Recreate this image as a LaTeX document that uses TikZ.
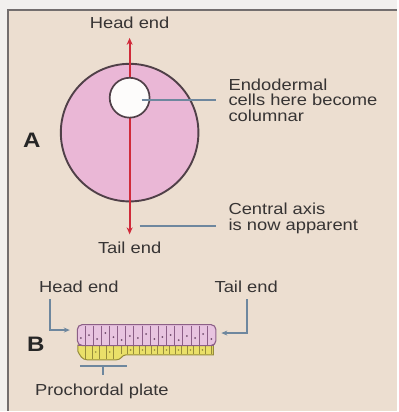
\documentclass[tikz,border=0pt]{standalone}
\usepackage{fontspec}
\setmainfont{Liberation Sans}[FakeStretch=1.15]
\usetikzlibrary{arrows.meta}
\definecolor{paper}{RGB}{236,222,208}
\definecolor{margin}{RGB}{242,240,238}
\definecolor{framegray}{RGB}{115,110,110}
\definecolor{txtgray}{RGB}{55,52,52}
\definecolor{eggpink}{RGB}{234,183,214}
\definecolor{rimgray}{RGB}{80,64,72}
\definecolor{axisred}{RGB}{208,42,58}
\definecolor{leader}{RGB}{110,135,158}
\definecolor{cellpink}{RGB}{232,196,224}
\definecolor{cellline}{RGB}{140,95,135}
\definecolor{yolk}{RGB}{234,224,105}
\definecolor{yolkline}{RGB}{150,140,60}
\begin{document}
\begin{tikzpicture}[x=1pt,y=-1pt,
  lbl/.style={inner sep=0pt, font=\fontsize{16}{16}\selectfont, text=txtgray, align=left},
  letter/.style={inner sep=0pt, font=\fontsize{21}{21}\selectfont\bfseries, text=black!85},
  leaderline/.style={draw=leader, line width=1.7pt},
  axis/.style={draw=axisred, line width=2pt, -{Stealth[length=7pt,width=6pt]}},
  pointer/.style={draw=leader, line width=1.6pt, -{Stealth[length=6pt,width=5pt]}},
  cellwall/.style={draw=cellline, line width=0.8pt},
  yolkwall/.style={draw=yolkline, line width=0.8pt},
  nucleus/.style={fill=cellline!80!black, draw=none}]

% page, margin and frame
\fill[margin] (0,0) rectangle (398,412);
\fill[paper] (8,10) rectangle (398,412);
\draw[framegray, line width=2.4pt] (8,412) -- (8,10) -- (398,10);
\useasboundingbox (0,0) rectangle (398,412);

% ---------- A: egg with central axis ----------
\node[circle, draw=rimgray, line width=1.9pt, fill=eggpink, minimum size=138pt, inner sep=0pt] (egg) at (130,133) {};
\coordinate (headtip) at (130,38);
\coordinate (tailtip) at (130,235);
\draw[axis] (egg.north) -- (headtip);
\draw[axis] (egg.north) -- (tailtip);
\node[circle, draw=rimgray, line width=1.7pt, fill=white!92!paper, minimum size=40pt, inner sep=0pt] (disk) at (130,98) {};

\node[lbl, anchor=base] (headA) at (130,29) {Head end};
\node[lbl, anchor=base] (tailA) at (130,254) {Tail end};
\node[letter, anchor=base west] (labA) at (23,148) {A};

\node[lbl, anchor=north west] (endo) at (229,78.5) {Endodermal\\cells here become\\columnar};
\node[lbl, anchor=north west] (axistxt) at (229,203.5) {Central axis\\is now apparent};
\coordinate (diskpt) at (142,100);
\coordinate (axispt) at (140,227);
\draw[leaderline] (diskpt) -- ([xshift=-12pt]diskpt -| endo.west);
\draw[leaderline] (axispt) -- ([xshift=-12pt]axispt -| axistxt.west);

% ---------- B: section through the disc ----------
\node[lbl, anchor=base west] (headB) at (39,293) {Head end};
\node[lbl, anchor=base west] (tailB) at (215,293) {Tail end};
\node[letter, anchor=base west] (labB) at (27,353) {B};
\node[lbl, anchor=base west] (plate) at (35,397) {Prochordal plate};

% endoderm layer (yellow) with the thickened prochordal plate
\path[fill=yolk, draw=yolkline, line width=1pt]
  (78,346) -- (214,346) -- (214,356) -- (126,356)
  .. controls (122,356) and (122,361) .. (116,361) -- (88,361)
  .. controls (82,361) and (80,356) .. (78,352) -- cycle;
\foreach \x in {122,128,...,212} \draw[yolkwall] (\x,347) -- (\x,355.5);
\foreach \x in {86,93,100,107,114} \draw[yolkwall] (\x,347) -- (\x,360.5);
\foreach \x/\y in {131/351,143/351,155/351,167/351,179/351,191/351,203/351,96/353,110/353}
  \fill[yolkline] (\x,\y) circle (0.9pt);

% ectoderm layer (pink) of tall columnar cells
\node[draw=cellline, line width=1.1pt, fill=cellpink, rounded corners=5pt,
      minimum width=139pt, minimum height=21pt, inner sep=0pt, anchor=north west] (ecto) at (77,325) {};
\foreach \i in {1,...,16} \draw[cellwall] (77+\i*8.18,326.5) -- (77+\i*8.18,345.5);
\foreach \i/\h in {0/339,1/336,2/340,3/334,4/338,5/341,6/337,7/339,8/335,9/340,10/338,11/336,12/341,13/337,14/339,15/335,16/340}
  \fill[nucleus] (81.1+\i*8.18,\h) circle (1pt);
\draw[cellline, line width=1pt] (78,346) -- (215,346);

\coordinate (headin) at (70,331);
\coordinate (tailin) at (222,334);
\draw[pointer] (50,300) |- (headin);
\draw[pointer] (248,300) |- (tailin);

% bracket marking the prochordal plate
\coordinate (brl) at (80,367);
\coordinate (brr) at (127,367);
\draw[leaderline] (brl) -- (brr);
\draw[leaderline] (103,367) -- (103,376);
\end{tikzpicture}
\end{document}
